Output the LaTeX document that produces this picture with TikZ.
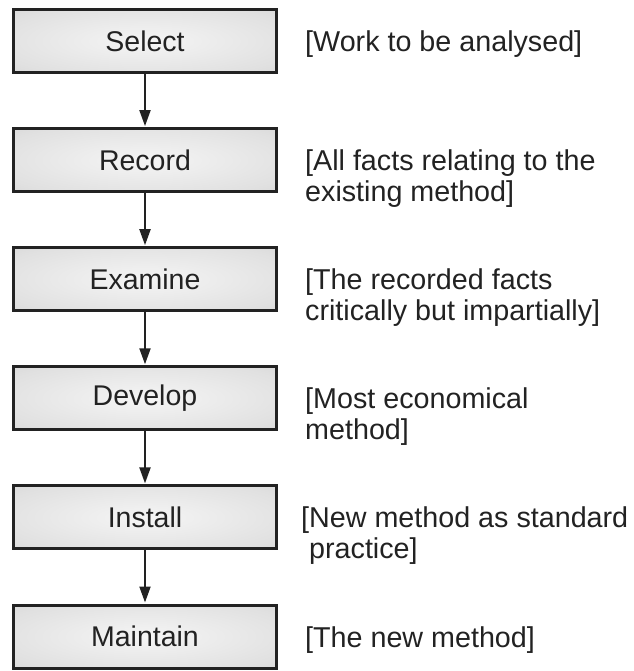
\documentclass[tikz,border=0pt]{standalone}
\usepackage{fontspec}
\setmainfont{Liberation Sans}
\usetikzlibrary{arrows.meta}
\definecolor{ink}{HTML}{222222}
\pgfdeclareradialshading{boxshade}{\pgfpoint{0bp}{0bp}}{%
  color(0bp)=(white!96!black); color(30bp)=(white!88!black);
  color(50bp)=(white!80!black); color(72bp)=(white!72!black)}
\begin{document}
\begin{tikzpicture}[x=1pt,y=-1pt,
  stepbox/.style={draw=ink, line width=3pt, shading=boxshade,
    minimum width=263pt, minimum height=63pt, inner sep=0pt,
    font=\fontsize{28.5}{34}\selectfont, text=ink},
  note/.style={anchor=base west, inner sep=0pt, align=left,
    font=\fontsize{28.7}{31}\selectfont, text=ink},
  flow/.style={draw=ink, line width=2pt,
    -{Triangle[length=16pt,width=11pt]}, shorten >=1pt}]
\useasboundingbox (0,0) rectangle (633,671);

\node[stepbox] (s1) at (145,41)    {Select};
\node[stepbox] (s2) at (145,160.1) {Record};
\node[stepbox] (s3) at (145,279.2) {Examine};
\node[stepbox] (s4) at (145,398.3) {Develop};
\node[stepbox] (s5) at (145,517.4) {Install};
\node[stepbox] (s6) at (145,636.5) {Maintain};

% single-line notes sit on the box's centre line; two-line notes are
% anchored on their last baseline, one line lower
\node[note] (n1) at (305,51.5)  {[Work to be analysed]};
\node[note] (n2) at (305,201.6) {[All facts relating to the\\existing method]};
\node[note] (n3) at (305,320.7) {[The recorded facts\\critically but impartially]};
\node[note] (n4) at (305,439.8) {[Most economical\\method]};
\node[note] (n5) at (301,558.9) {[New method as standard\\\ practice]};
\node[note] (n6) at (305,647)   {[The new method]};

\foreach \a/\b in {s1/s2,s2/s3,s3/s4,s4/s5,s5/s6}
  \draw[flow] (\a.south) -- (\b.north);
\end{tikzpicture}
\end{document}
